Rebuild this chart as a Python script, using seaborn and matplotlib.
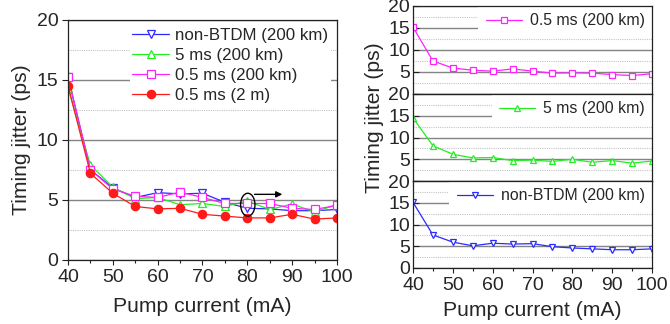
import numpy as np
import pandas as pd
import matplotlib
matplotlib.use("Agg")
import matplotlib.pyplot as plt
import seaborn as sns
from matplotlib.patches import Ellipse
from matplotlib.ticker import MultipleLocator

# ---------------- data ----------------
current = [40, 45, 50, 55, 60, 65, 70, 75, 80, 85, 90, 95, 100]

# left panel (all series together)
left_nonbtdm = [15.2, 7.5, 6.0, 5.2, 5.6, 5.5, 5.55, 4.8, 4.3, 4.25, 4.1, 4.1, 4.2]
left_5ms = [14.3, 7.9, 6.05, 5.1, 5.2, 4.6, 4.7, 4.45, 4.9, 4.2, 4.65, 4.0, 4.6]
left_05ms = [15.25, 7.5, 5.9, 5.3, 5.2, 5.65, 5.2, 4.7, 4.7, 4.7, 4.3, 4.2, 4.55]
left_05ms_2m = [14.5, 7.2, 5.55, 4.45, 4.25, 4.3, 3.8, 3.65, 3.5, 3.5, 3.8, 3.4, 3.5]

# right panels (separate)
right_05ms = [15.2, 7.5, 5.9, 5.4, 5.2, 5.7, 5.2, 4.75, 4.8, 4.75, 4.4, 4.2, 4.6]
right_5ms = [14.5, 8.1, 6.15, 5.3, 5.4, 4.7, 4.8, 4.5, 5.0, 4.3, 4.7, 4.1, 4.6]
right_nonbtdm = [15.1, 7.6, 5.95, 5.1, 5.7, 5.5, 5.6, 4.9, 4.6, 4.4, 4.2, 4.2, 4.4]

labels = ["non-BTDM (200 km)", "5 ms (200 km)", "0.5 ms (200 km)", "0.5 ms (2 m)"]
x_ticks = [40, 50, 60, 70, 80, 90, 100]
y_ticks = [0, 5, 10, 15, 20]

BLUE = "#2b2bff"
GREEN = "#22ee22"
MAGENTA = "#ff22ff"
RED = "#ff1a1a"

# ---------------- style ----------------
sns.set_theme(style="ticks")
plt.rcParams["font.family"] = ["Liberation Sans", "DejaVu Sans"]
plt.rcParams["axes.edgecolor"] = "#222222"
plt.rcParams["axes.linewidth"] = 0.9

fig = plt.figure(figsize=(6.7, 3.24), dpi=100)
W, H = 670.0, 324.0


def add_ax(x0, y0, x1, y1):
    return fig.add_axes([x0 / W, 1 - y1 / H, (x1 - x0) / W, (y1 - y0) / H])


def style_ax(ax, tick_fs=14, ydir="out"):
    ax.set_xlim(40, 100)
    ax.set_ylim(0, 20)
    ax.set_xticks(x_ticks)
    ax.set_yticks(y_ticks)
    ax.xaxis.set_minor_locator(MultipleLocator(5))
    ax.yaxis.set_minor_locator(MultipleLocator(2.5))
    ax.set_axisbelow(True)
    ax.grid(axis="y", which="major", color="#848484", lw=1.0, ls="-")
    ax.grid(axis="y", which="minor", color="#c4c4c4", lw=0.8, ls=(0, (1, 1)))
    ax.grid(axis="x", which="both", visible=False)
    ax.tick_params(axis="x", which="major", direction="out", length=3.5, width=0.8,
                   labelsize=tick_fs, pad=3, color="#222222")
    ax.tick_params(axis="x", which="minor", direction="out", length=2.5, width=0.8,
                   color="#222222")
    ax.tick_params(axis="y", which="major", direction=ydir, length=4, width=0.8,
                   labelsize=tick_fs, pad=3 if ydir == "out" else 2, color="#222222")
    ax.tick_params(axis="y", which="minor", length=0)
    for s in ax.spines.values():
        s.set_visible(True)
        s.set_color("#222222")
        s.set_linewidth(0.9)


def draw(ax, y, color, marker, label, filled=False, ms=6):
    sns.lineplot(x=current, y=y, ax=ax, color=color, marker=marker, lw=0.9,
                 ms=ms, mec=color, mfc=color if filled else "white", mew=0.9,
                 label=label, errorbar=None)


# ---------------- left panel ----------------
axL = add_ax(68, 19.5, 337, 260)
style_ax(axL)
draw(axL, left_nonbtdm, BLUE, "v", labels[0])
draw(axL, left_5ms, GREEN, "^", labels[1])
draw(axL, left_05ms, MAGENTA, "s", labels[2], ms=5.5)
draw(axL, left_05ms_2m, RED, "o", labels[3], filled=True, ms=6)
axL.set_xlabel("Pump current (mA)", fontsize=15.2, labelpad=8)
axL.set_ylabel("Timing jitter (ps)", fontsize=15.2, labelpad=4)
legL = axL.legend(loc="upper right", fontsize=12.2, frameon=True, facecolor="white",
                  edgecolor="none", framealpha=1, borderaxespad=0.35, borderpad=0.15,
                  handlelength=2.2, handletextpad=0.35, labelspacing=0.3, fancybox=False)
legL.set_zorder(1.5)

axL.add_patch(Ellipse((80.1, 4.6), width=3.2, height=1.9, fill=False, ec="black",
                      lw=1.0, zorder=6))
axL.annotate("", xy=(87.8, 5.46), xytext=(81.6, 5.46),
             arrowprops=dict(arrowstyle="-|>", color="black", lw=1.0,
                             mutation_scale=9, shrinkA=0, shrinkB=0))

# ---------------- right panels ----------------
right_specs = [
    (6, 94, right_05ms, MAGENTA, "s", labels[2]),
    (94, 181, right_5ms, GREEN, "^", labels[1]),
    (181, 268, right_nonbtdm, BLUE, "v", labels[0]),
]
for i, (y0, y1, vals, col, mk, lab) in enumerate(right_specs):
    ax = add_ax(413, y0, 652, y1)
    style_ax(ax, ydir="in")
    draw(ax, vals, col, mk, lab, ms=4)
    leg = ax.legend(loc="upper right", fontsize=11.4, frameon=True, facecolor="white",
                    edgecolor="none", framealpha=1, borderaxespad=0.0, borderpad=0.45,
                    handlelength=2.3, handletextpad=0.5, fancybox=False)
    leg.set_zorder(1.5)
    ax.set_ylabel("")
    if i < 2:
        ax.set_yticklabels(["", "5", "10", "15", "20"])
        ax.set_xticklabels([])
        ax.set_xlabel("")
    else:
        ax.set_xlabel("Pump current (mA)", fontsize=15.2, labelpad=5)

fig.text(375 / W, 1 - 118 / H, "Timing jitter (ps)", rotation=90, ha="center",
         va="center", fontsize=15.2)

fig.savefig("out.png", dpi=100)
